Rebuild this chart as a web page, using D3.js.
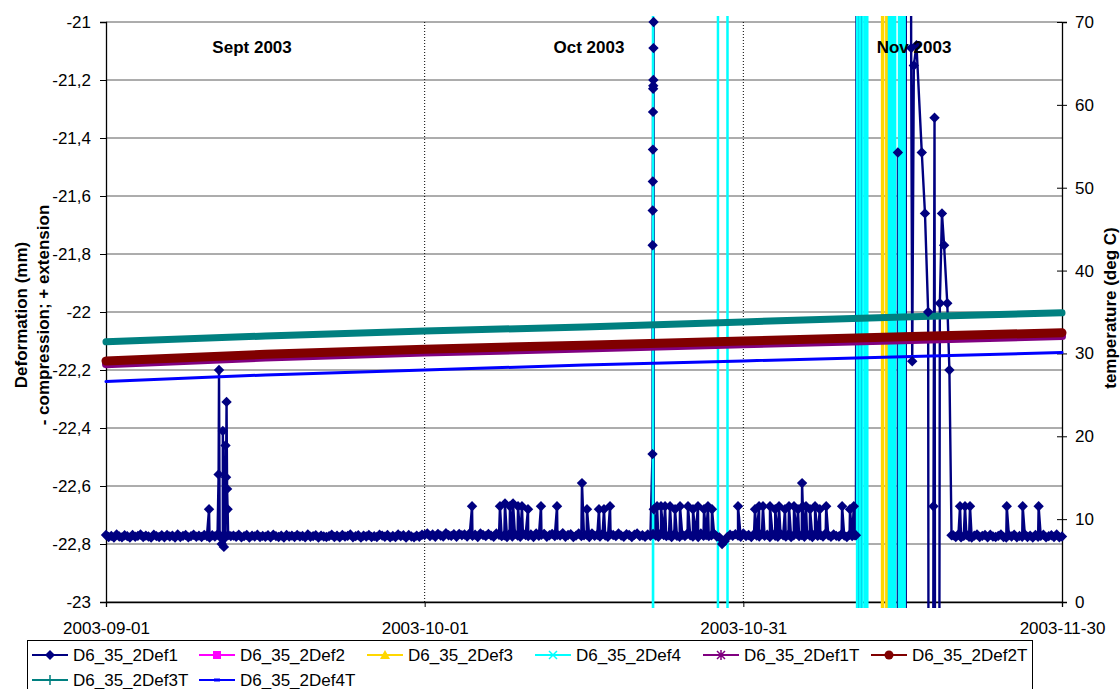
<!DOCTYPE html>
<html>
<head>
<meta charset="utf-8">
<script src="https://cdn.jsdelivr.net/npm/d3@7"></script>
<style>
  body { margin: 0; background: #fff; }
  svg { font-family: "Liberation Sans", Arial, sans-serif; }
</style>
</head>
<body>
<div id="chart"></div>
<script>
// ---- data ----
const startDay = new Date(2003, 8, 1);
const endDay = new Date(2003, 10, 30);
const xTickDates = ["2003-09-01", "2003-10-01", "2003-10-31", "2003-11-30"];
const leftTicks = [-21, -21.2, -21.4, -21.6, -21.8, -22, -22.2, -22.4, -22.6, -22.8, -23];
const rightTicks = [0, 10, 20, 30, 40, 50, 60, 70];
const seriesNames = ["D6_35_2Def1", "D6_35_2Def2", "D6_35_2Def3", "D6_35_2Def4",
                     "D6_35_2Def1T", "D6_35_2Def2T", "D6_35_2Def3T", "D6_35_2Def4T"];
const monthNames = ["Sept 2003", "Oct 2003", "Nov 2003"];
const monthDays = [13.75, 45.47, 76.07];

// Def1 baseline readings, one every 6 hours from 2003-09-01 (null = no baseline reading)
const baseStep = 0.25;
const def1Base = [
  -22.769,-22.776,-22.772,-22.778,-22.767,-22.774,-22.777,-22.770,-22.773,-22.778,-22.769,-22.775,
  -22.772,-22.767,-22.776,-22.771,-22.774,-22.778,-22.768,-22.773,-22.776,-22.770,-22.777,-22.769,
  -22.774,-22.771,-22.778,-22.767,-22.776,-22.772,-22.769,-22.777,-22.773,-22.768,-22.775,-22.771,
  -22.776,-22.769,-22.773,-22.778,-22.770,-22.774,-22.767,-22.776,-22.771,-22.777,-22.769,-22.773,
  -22.771,-22.775,-22.768,-22.777,-22.773,-22.769,-22.778,-22.771,-22.774,-22.768,-22.776,-22.772,
  -22.775,-22.770,-22.777,-22.768,-22.773,-22.776,-22.771,-22.778,-22.769,-22.774,-22.771,-22.776,
  -22.769,-22.774,-22.772,-22.777,-22.767,-22.775,-22.773,-22.770,-22.778,-22.771,-22.774,-22.776,
  -22.773,-22.768,-22.776,-22.771,-22.777,-22.769,-22.774,-22.772,-22.767,-22.777,-22.773,-22.770,
  -22.778,-22.771,-22.774,-22.769,-22.776,-22.773,-22.776,-22.768,-22.771,-22.775,-22.769,-22.777,
  -22.772,-22.776,-22.767,-22.773,-22.770,-22.778,-22.769,-22.774,-22.777,-22.771,-22.775,-22.768,
  -22.769,-22.764,-22.773,-22.767,-22.775,-22.765,-22.771,-22.774,-22.763,-22.770,-22.772,-22.766,
  -22.775,-22.765,-22.770,-22.767,-22.774,-22.763,-22.772,-22.768,-22.776,-22.764,-22.769,-22.773,
  -22.765,-22.771,-22.775,-22.764,-22.768,-22.773,-22.770,-22.776,-22.765,-22.774,-22.766,-22.771,
  -22.775,-22.764,-22.769,-22.773,-22.767,-22.776,-22.764,-22.772,-22.768,-22.765,-22.775,-22.770,
  -22.765,-22.773,-22.768,-22.771,-22.763,-22.775,-22.769,-22.766,-22.776,-22.771,-22.764,-22.773,
  -22.770,-22.767,-22.776,-22.764,-22.772,-22.768,-22.774,-22.765,-22.771,-22.775,-22.766,-22.769,
  -22.773,-22.764,-22.771,-22.775,-22.766,-22.769,-22.776,-22.768,-22.764,-22.773,-22.770,-22.775,
  -22.767,-22.772,-22.765,-22.771,-22.775,-22.763,-22.769,-22.773,-22.770,-22.776,-22.766,-22.772,
  -22.775,-22.768,-22.773,-22.764,-22.770,-22.774,-22.766,-22.776,-22.764,-22.772,-22.769,-22.773,
  -22.770,-22.765,-22.774,-22.777,-22.800,-22.790,-22.776,-22.768,-22.772,-22.766,-22.771,-22.775,
  -22.764,-22.773,-22.769,-22.776,-22.766,-22.771,-22.774,-22.764,-22.772,-22.768,-22.776,-22.766,
  -22.772,-22.775,-22.765,-22.770,-22.774,-22.767,-22.776,-22.770,-22.764,-22.773,-22.769,-22.775,
  -22.766,-22.771,-22.776,-22.765,-22.772,-22.769,-22.774,-22.764,-22.770,-22.775,-22.767,-22.772,
  -22.774,-22.766,-22.771,-22.776,-22.768,-22.773,-22.770,null,null,null,null,null,
  null,null,null,null,null,null,null,null,null,null,null,null,
  null,null,null,null,null,null,null,null,null,null,null,null,
  null,null,null,null,null,null,null,-22.770,-22.776,-22.767,-22.777,-22.772,
  -22.768,-22.775,-22.778,-22.771,-22.767,-22.776,-22.772,-22.769,-22.777,-22.768,-22.774,-22.776,
  -22.772,-22.767,-22.776,-22.778,-22.770,-22.774,-22.768,-22.777,-22.772,-22.775,-22.767,-22.776,
  -22.771,-22.778,-22.769,-22.775,-22.772,-22.768,-22.777,-22.773,-22.770,-22.776,-22.767,-22.777,
  -22.774
];

// Def1 excursions: [days since 2003-09-01, mm]
const def1Spikes = [
  [9.7,-22.68],
  [10.6,-22.56],[10.64,-22.20],[10.7,-22.77],[10.9,-22.80],[11.0,-22.41],[11.1,-22.81],
  [11.25,-22.46],[11.3,-22.57],[11.35,-22.31],[11.4,-22.61],[11.45,-22.68],
  [34.46,-22.67],[37.09,-22.67],[37.56,-22.66],[38.03,-22.67],[38.32,-22.66],[38.79,-22.67],
  [39.16,-22.67],[39.73,-22.68],[40.95,-22.67],[42.46,-22.67],[44.81,-22.59],[45.28,-22.68],
  [46.41,-22.68],[46.88,-22.68],[47.45,-22.67],
  [51.45,-22.49],[51.46,-21.77],[51.47,-21.65],[51.48,-21.55],[51.49,-21.44],[51.5,-21.31],
  [51.51,-21.23],[51.52,-21.22],[51.53,-21.2],[51.54,-21.09],[51.55,-21.0],[51.57,-22.68],
  [51.88,-22.67],[52.25,-22.67],[52.63,-22.67],[53.1,-22.67],[53.57,-22.68],[54.04,-22.67],
  [54.79,-22.67],[55.26,-22.68],[55.73,-22.67],[56.3,-22.68],[56.67,-22.67],[57.05,-22.68],
  [59.5,-22.67],[61.1,-22.68],[61.48,-22.67],[61.85,-22.67],[62.51,-22.67],[63.0,-22.68],
  [63.36,-22.67],[63.92,-22.68],[64.3,-22.67],[64.77,-22.67],[65.15,-22.68],[65.53,-22.59],
  [65.6,-22.67],[65.9,-22.67],[66.28,-22.68],[66.75,-22.67],[67.2,-22.68],[67.8,-22.67],
  [69.3,-22.67],[70.04,-22.68],[70.4,-22.67],
  [70.6,-22.77],[70.84,-15],[70.86,-30],[71.12,-30],[71.14,-15],[71.16,-30],
  [74.5,-30],[74.55,-21.45],[74.6,-30],[75.28,-30],[75.3,-15],[75.55,-15],
  [75.8,-21.09],[75.9,-22.17],[76.05,-21.15],[76.3,-21.08],[76.8,-21.45],[77.1,-21.66],
  [77.4,-22.0],[77.6,-30],[77.9,-22.67],[78.0,-21.33],[78.2,-30],[78.5,-21.97],
  [78.7,-21.66],[78.9,-21.77],[79.2,-21.97],[79.4,-22.2],[79.6,-22.77],
  [80.4,-22.67],[80.87,-22.67],[81.34,-22.67],[84.8,-22.67],[86.3,-22.67],[87.8,-22.67]
];

// Def2 stays off scale (below -23) for the whole period
const def2 = [[0,-30],[90,-30]];
// Def3 only crosses the plot early in November
const def3 = [[0,-30],[73.1,-30],[73.12,-15],[73.5,-15],[73.52,-30],[90,-30]];
// Def4 is off scale except for a few jumps across the plot
const def4 = [
  [0,-30],[51.49,-30],[51.5,-15],[51.51,-30],
  [57.6,-30],[57.62,-15],[58.5,-15],[58.52,-30],
  [70.7,-30],[70.72,-15],[70.95,-15],[70.97,-30],[71.2,-30],[71.22,-15],
  [71.45,-15],[71.47,-30],[71.62,-30],[71.64,-15],[71.66,-15],[71.68,-30],
  [73.7,-30],[73.72,-15],[73.9,-15],[73.92,-30],[74.1,-30],[74.12,-15],[74.28,-15],[74.3,-30],
  [74.65,-30],[74.67,-15],[74.85,-15],[74.87,-30],[75.0,-30],[75.02,-15],[75.18,-15],[75.2,-30],
  [90,-30]
];

// temperatures (deg C), right axis
const tempDays = [0, 15, 30, 45, 60, 75, 90];
const def1T = [28.7, 29.5, 30.1, 30.6, 31.1, 31.6, 32.1];
const def2T = [29.1, 29.9, 30.5, 31.0, 31.5, 32.0, 32.5];
const def3T = [31.4, 32.1, 32.7, 33.2, 33.8, 34.4, 34.9];
const def4T = [26.6, 27.4, 28.0, 28.6, 29.1, 29.6, 30.1];

// ---- chart ----
const W = 1120, H = 689;
const pLeft = 106, pRight = 1062, pTop = 22, pBottom = 602;

const toDate = day => new Date(startDay.getTime() + day * 864e5);
const parse = d3.timeParse("%Y-%m-%d");

const x = d3.scaleTime().domain([startDay, endDay]).range([pLeft, pRight]);
const yL = d3.scaleLinear().domain([-23, -21]).range([pBottom, pTop]);
const yR = d3.scaleLinear().domain([0, 70]).range([pBottom, pTop]);

const comma = d3.formatLocale({decimal: ",", thousands: ".", grouping: [3], currency: ["", ""], minus: "-"}).format("~g");

const svg = d3.select("#chart").append("svg")
    .attr("width", W)
    .attr("height", H);

svg.append("defs").append("clipPath").attr("id", "plot")
  .append("rect").attr("x", 100).attr("y", 16).attr("width", pRight - 100 + 6).attr("height", pBottom - 16 + 6);

// gridlines
svg.append("g").selectAll("line")
  .data(leftTicks)
  .enter().append("line")
    .attr("x1", pLeft).attr("x2", pRight)
    .attr("y1", d => yL(d)).attr("y2", d => yL(d))
    .attr("stroke", "#5a5a5a").attr("stroke-width", 1);

svg.append("g").selectAll("line")
  .data(xTickDates.slice(1, 3))
  .enter().append("line")
    .attr("x1", d => x(parse(d))).attr("x2", d => x(parse(d)))
    .attr("y1", pTop).attr("y2", pBottom)
    .attr("stroke", "#000").attr("stroke-width", 1)
    .attr("stroke-dasharray", "1,2");

// axes
const xAxis = svg.append("g")
    .attr("transform", `translate(0,${pBottom})`)
    .call(d3.axisBottom(x).tickValues(xTickDates.map(parse))
      .tickFormat(d3.timeFormat("%Y-%m-%d")).tickSize(5).tickPadding(15));

const yAxisL = svg.append("g")
    .attr("transform", `translate(${pLeft},0)`)
    .call(d3.axisLeft(yL).tickValues(leftTicks).tickFormat(comma).tickSize(6).tickPadding(9));

const yAxisR = svg.append("g")
    .attr("transform", `translate(${pRight},0)`)
    .call(d3.axisRight(yR).tickValues(rightTicks).tickSize(5).tickPadding(8));
yAxisR.selectAll(".tick line").attr("x1", -5);

[xAxis, yAxisL, yAxisR].forEach(a => {
  a.select(".domain").attr("stroke", "#000").attr("stroke-width", 1.3);
  a.selectAll(".tick line").attr("stroke", "#000");
  a.selectAll("text").attr("font-size", "17px").attr("fill", "#000")
    .attr("font-family", "'Liberation Sans', Arial, sans-serif");
});

// series
const plot = svg.append("g").attr("clip-path", "url(#plot)");
const dayLine = d3.line().x(d => x(toDate(d[0]))).y(d => yL(d[1]));
const tempLine = d3.line().x(d => x(toDate(d[0]))).y(d => yR(d[1]));
const tempPts = vals => vals.map((v, i) => [tempDays[i], v]);

const def1 = def1Base
  .map((v, i) => [i * baseStep, v])
  .filter(d => d[1] !== null)
  .concat(def1Spikes)
  .sort((a, b) => a[0] - b[0]);

plot.append("path").datum(def1).attr("d", dayLine)
  .attr("fill", "none").attr("stroke", "#000080").attr("stroke-width", 2.4);
plot.append("path").datum(def2).attr("d", dayLine)
  .attr("fill", "none").attr("stroke", "#ff00ff").attr("stroke-width", 2);
plot.append("path").datum(def3).attr("d", dayLine)
  .attr("fill", "none").attr("stroke", "#ffd700").attr("stroke-width", 3.5);
plot.append("path").datum(def4).attr("d", dayLine)
  .attr("fill", "none").attr("stroke", "#00ffff").attr("stroke-width", 2.5);

plot.append("path").datum(tempPts(def1T)).attr("d", tempLine)
  .attr("fill", "none").attr("stroke", "#800080").attr("stroke-width", 8).attr("stroke-linecap", "round");
plot.append("path").datum(tempPts(def2T)).attr("d", tempLine)
  .attr("fill", "none").attr("stroke", "#800000").attr("stroke-width", 9).attr("stroke-linecap", "round");
plot.append("path").datum(tempPts(def3T)).attr("d", tempLine)
  .attr("fill", "none").attr("stroke", "#008080").attr("stroke-width", 7).attr("stroke-linecap", "round");
plot.append("path").datum(tempPts(def4T)).attr("d", tempLine)
  .attr("fill", "none").attr("stroke", "#0000ff").attr("stroke-width", 3).attr("stroke-linecap", "round");

const diamond = r => `M0,${-r}L${r},0L0,${r}L${-r},0Z`;
plot.append("g").selectAll("path")
  .data(def1)
  .enter().append("path")
    .attr("d", diamond(5.2))
    .attr("transform", d => `translate(${x(toDate(d[0]))},${yL(d[1])})`)
    .attr("fill", "#000080");

// month labels
svg.append("g").selectAll("text")
  .data(monthNames)
  .enter().append("text")
    .attr("x", (d, i) => x(toDate(monthDays[i])))
    .attr("y", 47)
    .attr("dy", "0.35em")
    .attr("text-anchor", "middle")
    .attr("font-size", "17px")
    .attr("font-weight", "bold")
    .text(d => d);

// axis titles
const leftTitle = svg.append("g").attr("font-size", "17px").attr("font-weight", "bold").attr("text-anchor", "middle");
leftTitle.append("text").attr("transform", "translate(21,315) rotate(-90)").attr("dy", "0.35em").text("Deformation (mm)");
leftTitle.append("text").attr("transform", "translate(43,315) rotate(-90)").attr("dy", "0.35em").text("- compression; + extension");
svg.append("text")
  .attr("transform", "translate(1110,308) rotate(-90)")
  .attr("dy", "0.35em")
  .attr("text-anchor", "middle")
  .attr("font-size", "17px")
  .attr("font-weight", "bold")
  .text("temperature (deg C)");

// legend
const legendColors = ["#000080", "#ff00ff", "#ffd700", "#00ffff", "#800080", "#800000", "#008080", "#0000ff"];
const legendPos = [[32, 655], [199, 655], [367, 655], [535, 655], [703, 655], [871, 655], [32, 680], [199, 680]];

svg.append("rect")
  .attr("x", 27.5).attr("y", 640.5).attr("width", 1005).attr("height", 62)
  .attr("fill", "#fff").attr("stroke", "#000").attr("stroke-width", 1);

const markers = [
  c => `<path d="${diamond(5)}" fill="${c}"/>`,
  c => `<rect x="-4" y="-4" width="8" height="8" fill="${c}"/>`,
  c => `<path d="M0,-5L5,4L-5,4Z" fill="${c}"/>`,
  c => `<path d="M-4,-4L4,4M-4,4L4,-4" stroke="${c}" stroke-width="1.5"/>`,
  c => `<path d="M-4,-4L4,4M-4,4L4,-4M0,-5L0,5" stroke="${c}" stroke-width="1.5"/>`,
  c => `<circle r="4.5" fill="${c}"/>`,
  c => `<path d="M-5,0L5,0M0,-5L0,5" stroke="${c}" stroke-width="1.5"/>`,
  c => `<rect x="-3" y="-1.5" width="6" height="3" fill="${c}"/>`
];

const legend = svg.append("g").selectAll("g")
  .data(seriesNames)
  .enter().append("g")
    .attr("transform", (d, i) => `translate(${legendPos[i][0]},${legendPos[i][1]})`);

legend.append("line")
  .attr("x1", 0).attr("x2", 36)
  .attr("stroke", (d, i) => legendColors[i])
  .attr("stroke-width", 2);

legend.append("g")
  .attr("transform", "translate(18,0)")
  .html((d, i) => markers[i](legendColors[i]));

legend.append("text")
  .attr("x", 41)
  .attr("dy", "0.36em")
  .attr("font-size", "17px")
  .text(d => d);
</script>
</body>
</html>
